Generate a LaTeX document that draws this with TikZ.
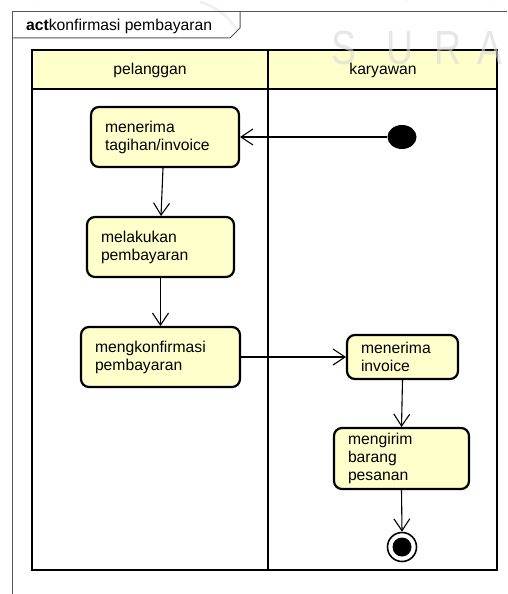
\documentclass[tikz,border=0pt]{standalone}
\usepackage{fontspec}
\setmainfont{Liberation Sans}
\usetikzlibrary{arrows.meta,shapes.geometric}
\definecolor{actfill}{HTML}{FFFFCC}
\definecolor{framegray}{HTML}{555555}
\definecolor{markgray}{HTML}{D8D8D8}
\begin{document}
\begin{tikzpicture}[x=1pt,y=-1pt,
  every node/.style={font=\fontsize{15.7}{18}\selectfont},
  action/.style={draw=black, fill=actfill, line width=2.2pt, rounded corners=8pt,
    align=left, inner xsep=14pt, inner ysep=0pt, outer sep=1pt},
  flow/.style={line width=1.1pt, -{Straight Barb[length=12pt,width=16pt,line width=1.1pt]}},
  lane/.style={line width=2.5pt},
  frameline/.style={draw=framegray, line width=1pt}
]
\useasboundingbox (0,0) rectangle (507,594);
\fill[white] (0,0) rectangle (507,594);

% faint watermark arcs at the top edge
\draw[markgray, line width=4pt, opacity=0.45] (405,0) arc[start angle=200, end angle=340, radius=45];
\draw[markgray, line width=3pt, opacity=0.35] (36,0) arc[start angle=220, end angle=260, radius=60];
\draw[markgray, line width=3pt, opacity=0.35] (200,2) arc[start angle=285, end angle=330, radius=60];

% diagram frame with its name tab
\draw[frameline] (12,594) -- (12,12) -- (507,12);
\draw[frameline] (12,38) -- (230,38) -- (240,28) -- (240,12);
\node[anchor=base west, inner sep=0pt] (title) at (26,31) {\textbf{act}konfirmasi pembayaran};

% swimlanes
\fill[actfill] (32,50) rectangle (497,89);
\draw[lane] (32,50) rectangle (497,570);
\draw[lane] (32,89) -- (497,89);
\draw[lane] (268,50) -- (268,570);
\node (lanep) at (150,70) {pelanggan};
\node (lanek) at (383,70) {karyawan};

% actions
\node[action, text width=120pt, minimum height=60pt] (n1) at (165,137) {menerima\\tagihan/invoice};
\node[action, text width=119pt, minimum height=60pt] (n2) at (160.5,247) {melakukan\\pembayaran};
\node[action, text width=131pt, minimum height=60pt] (n3) at (160.5,357) {mengkonfirmasi\\pembayaran};
\node[action, text width=83pt, minimum height=44pt] (n4) at (402.5,357) {menerima\\invoice};
\node[action, text width=107pt, minimum height=61pt] (n5) at (401.5,458.5) {mengirim\\barang\\pesanan};

% initial and final nodes
\node[ellipse, fill=black, minimum width=29pt, minimum height=24pt, inner sep=0pt] (start) at (402,137) {};
\node[circle, draw=black, line width=1.6pt, fill=white, minimum size=29pt, inner sep=0pt] (end) at (402,547) {};
\node[circle, fill=black, minimum size=19pt, inner sep=0pt] (endcore) at (402,547) {};

% control flows
\draw[flow] (start.west) -- (n1.east);
\draw[flow] ([xshift=-2pt]n1.south) -- ([xshift=0.5pt]n2.north);
\draw[flow] (n2.south) -- (n3.north);
\draw[flow] (n3.east) -- (n4.west);
\draw[flow] (n4.south) -- (n5.north);
\draw[flow] (n5.south) -- (end.north);

% watermark letters
\begin{scope}[every node/.style={font=\fontsize{48}{48}\selectfont, text=markgray, opacity=0.6, inner sep=0pt, anchor=base west, xscale=0.78}]
\node (wmS) at (331,65) {S};
\node (wmU) at (386,65) {U};
\node (wmR) at (434,65) {R};
\node (wmA) at (477,65) {A};
\end{scope}
\end{tikzpicture}
\end{document}
